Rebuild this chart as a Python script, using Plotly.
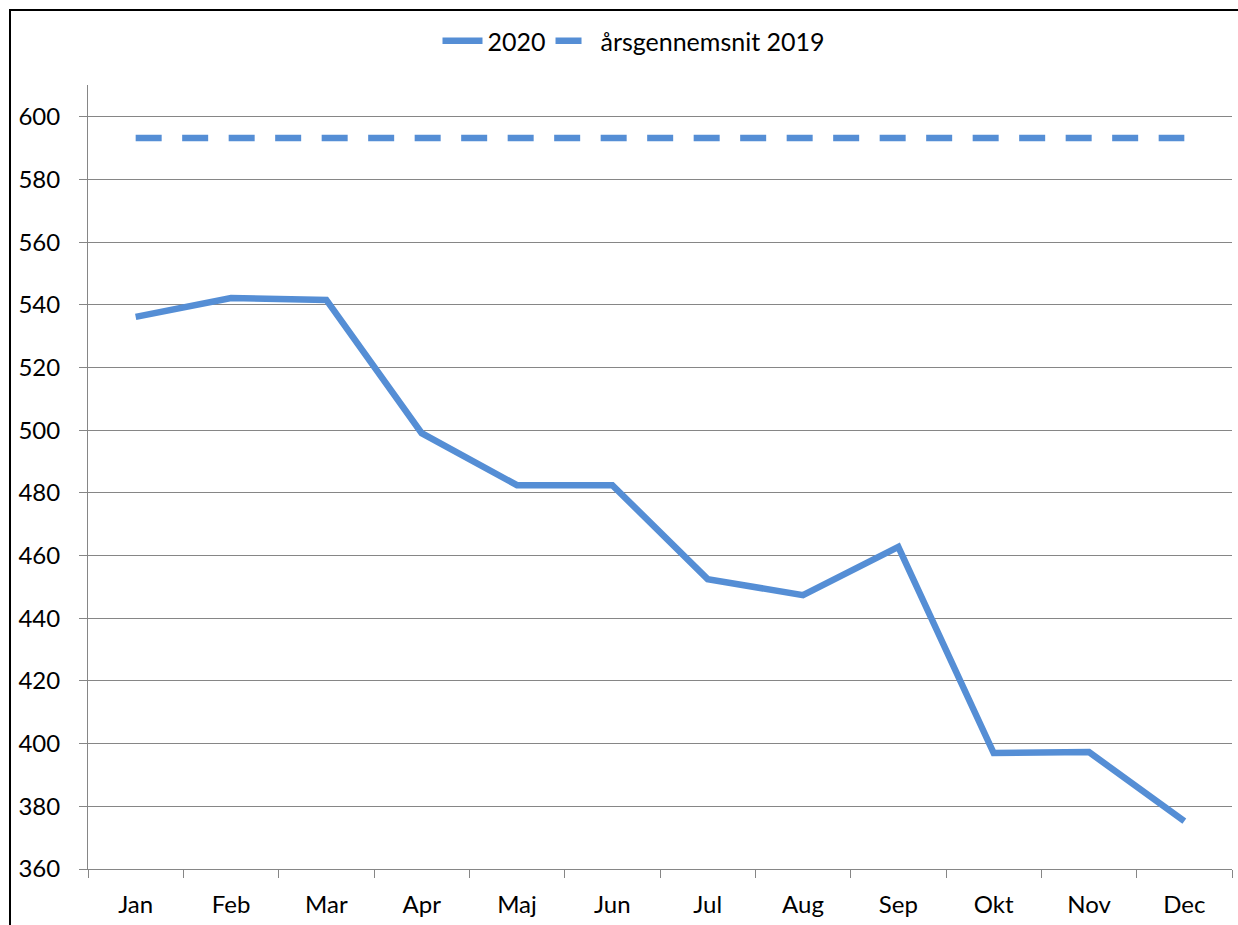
import plotly.graph_objects as go

months = ["Jan", "Feb", "Mar", "Apr", "Maj", "Jun", "Jul", "Aug", "Sep", "Okt", "Nov", "Dec"]
values_2020 = [536.2, 542.2, 541.6, 499.1, 482.5, 482.5, 452.5, 447.4, 462.8, 397.0, 397.3, 375.3]
avg_2019 = [593.3] * 12
y_ticks = [360, 380, 400, 420, 440, 460, 480, 500, 520, 540, 560, 580, 600]

W, H = 1238, 925
L, R, T, B = 88, 6, 85, 56
pw, ph = W - L - R, H - T - B

def px_x(x):
    return (x - L) / pw

def px_y(y):
    return (H - B - y) / ph

color = "#558ED5"
fig = go.Figure()
fig.add_trace(go.Scatter(x=months, y=values_2020, mode="lines", name="2020",
                         line=dict(color=color, width=6.5)))
fig.add_trace(go.Scatter(x=months, y=avg_2019, mode="lines", name="årsgennemsnit 2019",
                         line=dict(color=color, width=6.5, dash="26px,20.5px")))

fig.update_layout(
    width=W, height=H,
    margin=dict(l=L, r=R, t=T, b=B),
    paper_bgcolor="white", plot_bgcolor="white",
    font=dict(family="Lato, Carlito, Calibri, sans-serif", size=24, color="black"),
    showlegend=True,
    legend=dict(orientation="h", x=px_x(634), xanchor="center", y=px_y(41), yanchor="middle",
                font=dict(size=25), bgcolor="rgba(0,0,0,0)", itemwidth=40),
    xaxis=dict(type="category", range=[-0.5, 11.5], showgrid=False, showline=True,
               linecolor="#868686", linewidth=1, ticks="outside", tickson="boundaries",
               ticklen=8, tickcolor="#868686", ticklabelstandoff=14, zeroline=False),
    yaxis=dict(range=[360, 610.2], tickvals=y_ticks, showgrid=True, gridcolor="#868686",
               gridwidth=1, showline=True, linecolor="#868686", linewidth=1,
               ticks="outside", ticklen=8, tickcolor="#868686", ticklabelstandoff=14,
               zeroline=False),
    shapes=[dict(type="path", xref="paper", yref="paper",
                 path=f"M {px_x(10)},{px_y(H)} L {px_x(10)},{px_y(10)} L {px_x(W)},{px_y(10)}",
                 line=dict(color="black", width=2), layer="above")],
)

fig.write_html(
    "out.html",
    config={"displayModeBar": False},
    post_script="document.body.style.margin='0';document.body.style.overflow='hidden';",
)
